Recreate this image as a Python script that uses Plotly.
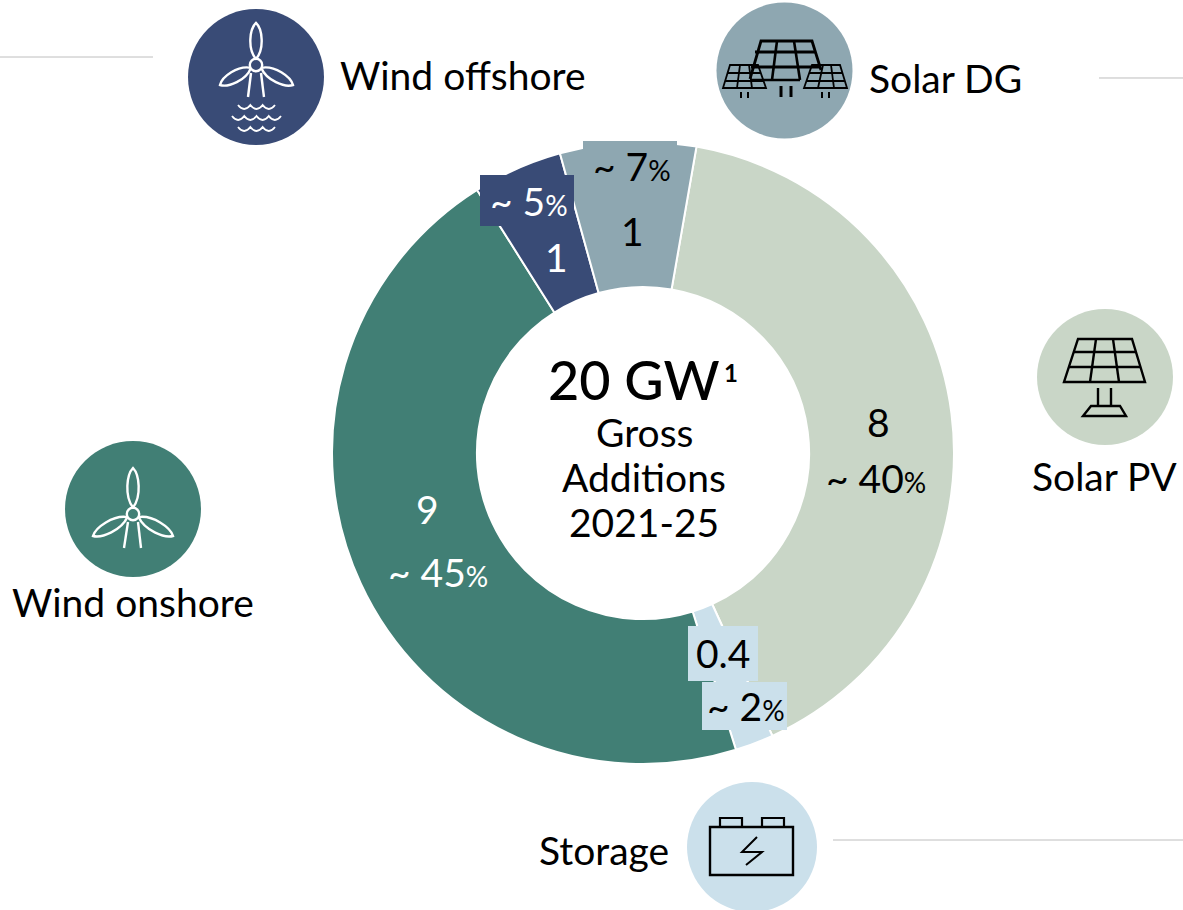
import numpy as np
import plotly.graph_objects as go

W, H = 1183, 910

categories = ["Solar PV", "Storage", "Wind onshore", "Wind offshore", "Solar DG"]
gw_values = [8.08, 0.4, 9.17, 0.93, 1.41]
gw_labels = ["8", "0.4", "9", "1", "1"]
share_labels = ["40", "2", "45", "5", "7"]
colors = ["#C9D6C7", "#CBE0EB", "#417F75", "#394B76", "#8EA7B1"]
FONT = "Lato"


def px(x):
    return x / W


def py(y):
    return 1 - y / H


def path(cmds):
    out = []
    for c in cmds:
        if c == "Z":
            out.append("Z")
        else:
            k = c[0]
            nums = c[1:]
            pts = " ".join(f"{px(nums[i]):.5f},{py(nums[i+1]):.5f}" for i in range(0, len(nums), 2))
            out.append(k + pts)
    return " ".join(out)


shapes = []


def stroke(cmds, color, w=2.0, fill=None):
    shapes.append(dict(type="path", xref="paper", yref="paper", path=path(cmds), layer="above",
                       line=dict(color=color, width=w), fillcolor=fill or "rgba(0,0,0,0)"))


def seg(x0, y0, x1, y1, color, w=2.0):
    stroke([("M", x0, y0), ("L", x1, y1)], color, w)


def disc(cx, cy, r, color, line=None, w=0):
    shapes.append(dict(type="circle", xref="paper", yref="paper", layer="above",
                       x0=px(cx - r), x1=px(cx + r), y0=py(cy + r), y1=py(cy - r),
                       fillcolor=color, line=dict(color=line or color, width=w)))


def box(x0, y0, x1, y1, color):
    shapes.append(dict(type="rect", xref="paper", yref="paper", layer="above",
                       x0=px(x0), x1=px(x1), y0=py(y1), y1=py(y0), fillcolor=color, line=dict(width=0)))


def blade(hx, hy, tx, ty, hw, color):
    d = np.array([tx - hx, ty - hy], float)
    n = np.array([-d[1], d[0]]) / np.hypot(*d)
    a = np.array([hx, hy], float) + 0.14 * d
    t = np.array([tx, ty], float)
    c1 = a + 0.25 * d + n * hw * 1.25
    c2 = a + 0.72 * d + n * hw * 0.9
    c3 = a + 0.72 * d - n * hw * 0.9
    c4 = a + 0.25 * d - n * hw * 1.25
    stroke([("M", *a), ("C", *c1, *c2, *t), ("C", *c3, *c4, *a)], color, 2.4)


def turbine(hx, hy, top, left, right, feet, color):
    blade(hx, hy, *top, 7.0, color)
    blade(hx, hy, *left, 7.0, color)
    blade(hx, hy, *right, 7.0, color)
    disc(hx, hy, 6.2, colors[3] if hy < 100 else colors[2], color, 2.4)
    seg(hx - 5, hy + 8, *feet[0], color, 2.4)
    seg(hx + 5, hy + 8, *feet[1], color, 2.4)


def wave(x0, x1, y, color, n=3):
    cmds = [("M", x0, y)]
    step = (x1 - x0) / n
    for i in range(n):
        a = x0 + i * step
        cmds.append(("Q", a + step / 2, y + 8, a + step, y))
    stroke(cmds, color, 1.8)


def panel(tl, tr, bl, br, ys, tops, bots, w, hb=None):
    stroke([("M", *tl), ("L", *tr), ("L", *br), ("L", *bl), ("Z",)], "#000000", w)
    for y in ys:
        f = (y - tl[1]) / (bl[1] - tl[1])
        seg(tl[0] + f * (bl[0] - tl[0]), y, tr[0] + f * (br[0] - tr[0]), y, "#000000", w)
    for a, b in zip(tops, bots):
        seg(a, tl[1], b, bl[1], "#000000", w)


# leader lines
for x0, x1, y in [(0, 153, 57), (1099, 1183, 78), (833, 1183, 840)]:
    seg(x0, y, x1, y, "#BEBEBE", 1)

# boxes behind labels
box(583, 141, 677, 185, colors[4])
box(480, 175, 574, 226, colors[3])
box(688, 626, 758, 681, colors[1])
box(702, 682, 787, 730, colors[1])

# icon discs
disc(256, 77, 68, colors[3])
disc(784.5, 70.5, 68, colors[4])
disc(1105, 377, 68, colors[0])
disc(133, 509, 68, colors[2])
disc(752, 847, 65, colors[1])

# wind offshore icon
turbine(256, 65, (256, 23), (220, 85), (293, 85), [(248, 97), (264, 97)], "#FFFFFF")
wave(238, 275, 105, "#FFFFFF")
wave(232, 281, 116, "#FFFFFF", 4)
wave(238, 275, 127, "#FFFFFF")

# wind onshore icon
turbine(133, 514, (133, 468), (93, 536), (173, 536), [(124, 548), (141, 548)], "#FFFFFF")

# solar PV icon
panel((1078, 339), (1132, 339), (1064, 382), (1145, 382), [352, 367], [1096, 1113], [1090, 1119], 2.4)
seg(1098, 388, 1098, 406, "#000000", 2.4)
seg(1111, 388, 1111, 406, "#000000", 2.4)
stroke([("M", 1091, 406), ("L", 1120, 406), ("L", 1126, 416), ("L", 1083, 416), ("Z",)], "#000000", 2.4)

# solar DG icon
stroke([("M", 750, 79), ("L", 761, 41), ("L", 812, 41), ("L", 821, 70)], "#000000", 2.8)
seg(755, 52, 816, 52, "#000000", 2.8)
seg(751, 67, 820, 67, "#000000", 2.8)
seg(777, 41, 772, 80, "#000000", 2.6)
seg(794, 41, 800, 80, "#000000", 2.6)
seg(750, 80, 800, 80, "#000000", 2.6)
panel((730, 65), (758, 65), (723, 88), (766, 88), [73, 81], [740, 749], [737, 752], 1.8)
panel((812, 65), (840, 65), (804, 88), (847, 88), [73, 81], [823, 831], [818, 834], 1.8)
for x, w in [(741, 2), (748, 2), (822, 2), (829, 2), (781, 3), (791, 3)]:
    y0, y1 = (86, 97) if w == 3 else (92, 98)
    seg(x, y0, x, y1, "#000000", w)

# storage icon
stroke([("M", 710, 827), ("L", 793, 827), ("L", 793, 875), ("L", 710, 875), ("Z",)], "#000000", 2.4)
stroke([("M", 720, 827), ("L", 720, 818), ("L", 742, 818), ("L", 742, 827)], "#000000", 2.2)
stroke([("M", 762, 827), ("L", 762, 818), ("L", 784, 818), ("L", 784, 827)], "#000000", 2.2)
stroke([("M", 757, 837), ("L", 742, 852), ("L", 762, 852), ("L", 746, 865)], "#000000", 2.0)

annotations = []
SIZE = 39


def note(x, y, text, size=SIZE, color="#000000", anchor="center", weight=None):
    f = dict(family=FONT, size=size, color=color)
    if weight:
        f["weight"] = weight
    annotations.append(dict(x=px(x), y=py(y - 2), xref="paper", yref="paper", text=text, showarrow=False,
                            xanchor=anchor, yanchor="middle", align="center", font=f))


def pct(v):
    return f"~ {v}<span style='font-size:28px'>%</span>"


note(338, 77, categories[3], anchor="left")
note(867, 80, categories[4], anchor="left")
note(1104, 478, categories[0])
note(133, 604, categories[2])
note(671, 852, categories[1], anchor="right")

note(634, 381, "20 GW", size=54, weight=500)
note(731, 374, "1", size=24, weight=700)
note(644, 434, "Gross")
note(644, 479, "Additions")
note(644, 524, "2021-25")

label_pos = [((878, 424), (876, 480), "#000000"),
             ((723, 655), (746, 708), "#000000"),
             ((427, 511), (438, 574), "#FFFFFF"),
             ((556, 259), (529, 203), "#FFFFFF"),
             ((632, 233), (632, 168), "#000000")]
for g, s, (pg, ps, col) in zip(gw_labels, share_labels, label_pos):
    note(*pg, g, color=col)
    note(*ps, pct(s), color=col)

cx, cy, R = 643, 453, 311
fig = go.Figure(go.Pie(
    labels=categories, values=gw_values, hole=0.534, sort=False, direction="clockwise", rotation=9.9,
    marker=dict(colors=colors, line=dict(color="#FFFFFF", width=2)), textinfo="none",
    domain=dict(x=[px(cx - R), px(cx + R)], y=[py(cy + R), py(cy - R)]),
))
fig.update_layout(width=W, height=H, margin=dict(l=0, r=0, t=0, b=0), showlegend=False,
                  paper_bgcolor="#FFFFFF", shapes=shapes, annotations=annotations,
                  font=dict(family=FONT))
fig.write_html("out.html", config=dict(displayModeBar=False),
               post_script="document.body.style.margin='0';document.body.style.overflow='hidden';")
